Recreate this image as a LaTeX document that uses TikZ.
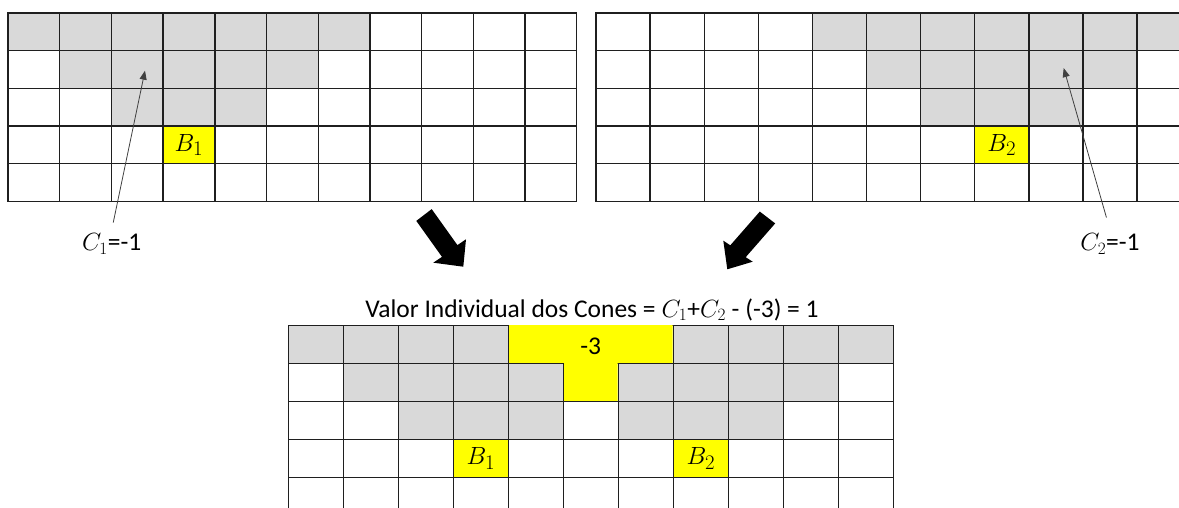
\documentclass[tikz,border=0pt]{standalone}
\usepackage{fontspec}
\setmainfont{Carlito}
\usepackage{tikz}
\usetikzlibrary{arrows.meta}
\definecolor{conegray}{HTML}{D9D9D9}
\definecolor{coneyellow}{HTML}{FFFF00}
\definecolor{gridink}{HTML}{1F1F1F}
\definecolor{pointerink}{HTML}{404040}
\tikzset{
  gridline/.style={draw=gridink, line width=1.4pt, line cap=rect},
  hitcell/.style={fill=coneyellow, inner sep=0pt, font=\fontsize{28}{32}\selectfont},
  pointer/.style={draw=pointerink, line width=0.8pt, -{Triangle[length=9pt,width=7pt]}},
  blockarrow/.style={fill=black},
  slidetext/.style={font=\fontsize{25.5}{30}\selectfont}
}
% 11 x 5 grid: #1 x0, #2 y0, #3 cell width, #4 cell height
\newcommand{\conegrid}[4]{
  \foreach \c in {0,...,11} \draw[gridline] ({#1+\c*#3},{#2}) -- ({#1+\c*#3},{#2+5*#4});
  \foreach \r in {0,...,5} \draw[gridline] ({#1},{#2+\r*#4}) -- ({#1+11*#3},{#2+\r*#4});
}
% gray run of cells in one row: #5 row, #6 first col, #7 last col
\newcommand{\conefill}[7]{
  \fill[conegray] ({#1+#6*#3},{#2+#5*#4}) rectangle ({#1+(#7+1)*#3},{#2+(#5+1)*#4});
}

\begin{document}
\begin{tikzpicture}[x=1pt,y=-1pt]
\useasboundingbox (0,0) rectangle (1179,508);
\clip (0,0) rectangle (1179,508);

% top left cone
\foreach \r/\a/\b in {0/0/6,1/1/5,2/2/4} {\conefill{8}{13}{51.7}{37.7}{\r}{\a}{\b}}
\node[hitcell, minimum width=51.7pt, minimum height=37.7pt] (b1top) at (189.0,144.95) {$B_1$};
\conegrid{8}{13}{51.7}{37.7}

% top right cone
\foreach \r/\a/\b in {0/4/10,1/5/9,2/6/8} {\conefill{596}{13}{54.1}{37.7}{\r}{\a}{\b}}
\node[hitcell, minimum width=54.1pt, minimum height=37.7pt] (b2top) at (1001.75,144.95) {$B_2$};
\conegrid{596}{13}{54.1}{37.7}

% bottom: both cones together
\foreach \r/\a/\b in {0/0/3,0/7/10,1/1/4,1/6/9,2/2/4,2/6/8} {\conefill{288.3}{325.7}{55}{37.9}{\r}{\a}{\b}}
\node[hitcell, minimum width=55pt, minimum height=37.9pt] (b1low) at (480.8,458.35) {$B_1$};
\node[hitcell, minimum width=55pt, minimum height=37.9pt] (b2low) at (700.8,458.35) {$B_2$};
\conegrid{288.3}{325.7}{55}{37.9}
\fill[coneyellow] (509.0,325) -- (672.6,325) -- (672.6,362.9) -- (617.6,362.9) -- (617.6,400.8)
  -- (564.0,400.8) -- (564.0,362.9) -- (509.0,362.9) -- cycle;
\node[slidetext] (overlap) at (590.8,346) {-3};

\node[slidetext, anchor=base] (title) at (592,317) {Valor Individual dos Cones = $C_1$+$C_2$ - (-3) = 1};

% values of the single cones
\node[slidetext, anchor=base] (c1lab) at (111.7,250.5) {$C_1$=-1};
\node[slidetext, anchor=base] (c2lab) at (1110,250.5) {$C_2$=-1};
\coordinate (c1tip) at (145,70.7);
\coordinate (c2tip) at (1063.7,68.1);
\draw[pointer, shorten <=7.5pt] (c1lab.north) -- (c1tip);
\draw[pointer, shorten <=13pt] (c2lab.north) -- (c2tip);

% block arrows
\fill[blockarrow] (416.3,220.9) -- (431.7,209.1) -- (457.4,245.1) -- (466,239.3) -- (463.3,266.7)
  -- (433.3,262.7) -- (442,256.9) -- cycle;
\fill[blockarrow] (759.8,211.6) -- (775.2,223.4) -- (745.7,257.2) -- (752.7,261.7) -- (727.3,269.3)
  -- (723.3,240.7) -- (730.3,245.3) -- cycle;
\end{tikzpicture}
\end{document}
